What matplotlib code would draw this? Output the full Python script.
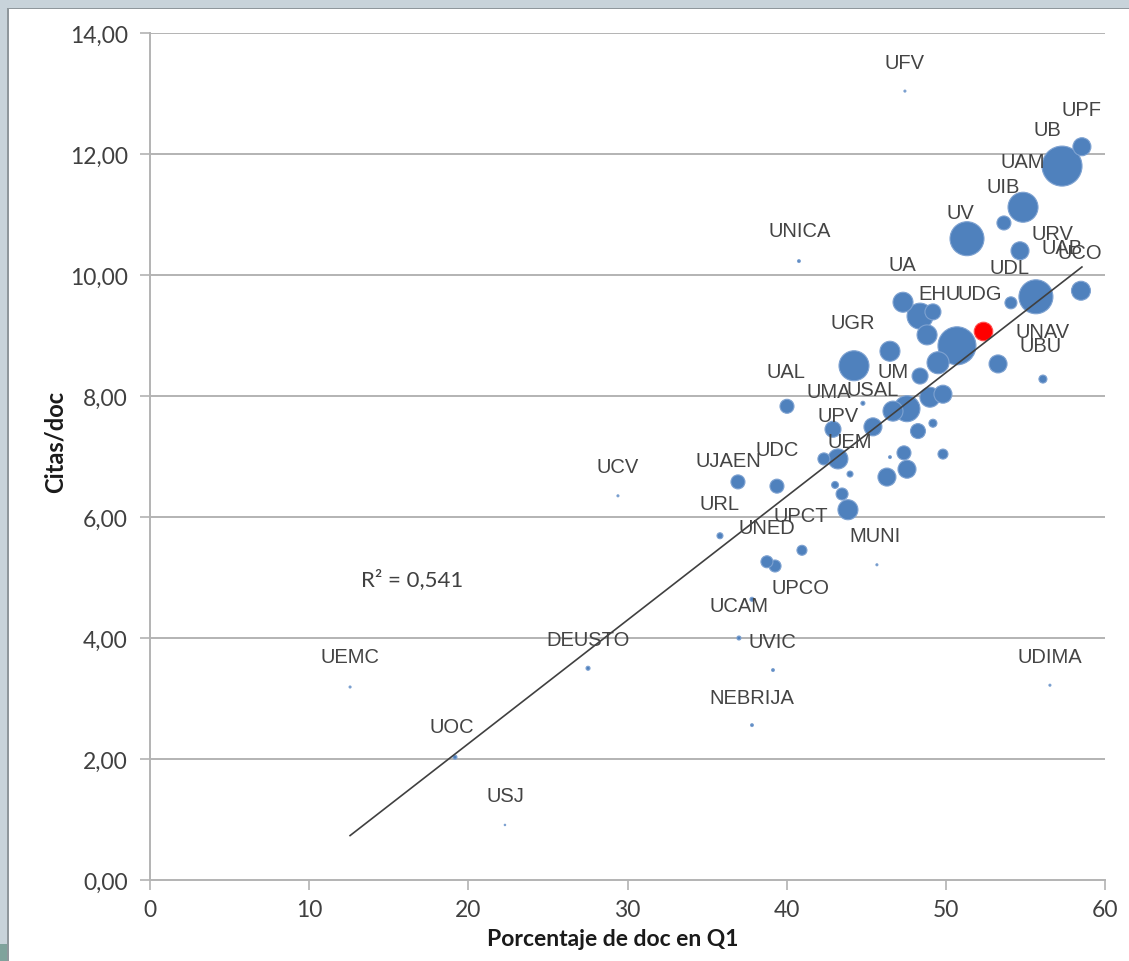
import matplotlib
matplotlib.use("Agg")
import matplotlib.pyplot as plt
import numpy as np
from matplotlib.patches import Rectangle
from matplotlib.ticker import FuncFormatter

# ---------------- data ----------------
# % of documents in Q1
pct_q1 = [47.43, 58.55, 57.30, 54.85, 53.65, 51.33, 54.66, 40.77, 55.66, 58.49,
          54.09, 47.31, 48.38, 49.19, 48.82, 50.70, 53.28, 49.51, 46.49, 44.23,
          48.38, 49.82, 47.56, 45.42, 48.25, 49.19, 44.79, 42.91, 40.02, 46.68,
          43.22, 42.34, 43.98, 46.49, 47.37, 49.82, 47.56, 46.30, 39.39, 36.94,
          43.04, 43.48, 43.85, 35.81, 40.96, 38.76, 39.27, 45.67, 37.82, 37.00,
          39.14, 37.82, 27.52, 12.57, 19.16, 56.54, 29.40, 56.10, 22.30, 49.00]
# citations per document
citas_doc = [13.04, 12.12, 11.80, 11.12, 10.86, 10.60, 10.40, 10.23, 9.64, 9.74,
             9.54, 9.55, 9.32, 9.39, 9.01, 8.83, 8.53, 8.55, 8.74, 8.50,
             8.33, 8.03, 7.79, 7.49, 7.42, 7.55, 7.88, 7.45, 7.83, 7.75,
             6.96, 6.96, 6.71, 6.99, 7.06, 7.04, 6.79, 6.66, 6.51, 6.58,
             6.53, 6.38, 6.12, 5.69, 5.45, 5.26, 5.19, 5.21, 4.64, 4.00,
             3.47, 2.56, 3.50, 3.19, 2.03, 3.22, 6.35, 8.28, 0.91, 7.98]
# bubble size (relative volume of documents)
volumen = [1, 81, 400, 225, 49, 289, 81, 2, 289, 90,
           36, 100, 169, 64, 100, 361, 81, 121, 100, 225,
           64, 81, 169, 81, 56, 16, 4, 64, 49, 100,
           100, 36, 9, 2, 49, 25, 81, 81, 49, 49,
           12, 36, 100, 9, 25, 36, 36, 1, 4, 4,
           2, 2, 4, 1, 4, 1, 1, 16, 0.5, 100]

# highlighted university (red bubble)
dest_x = [52.33]
dest_y = [9.07]
dest_vol = [86]

# linear trend (Excel trendline) and R²
trend_slope = 0.2044
trend_intercept = -1.835
r2_text = "R² = 0,541"

etiquetas = ["UFV", "UPF", "UB", "UAM", "UIB", "UV", "UNICA", "URV", "UAB", "UCO",
             "UA", "UDL", "EHU", "UDG", "UNAV", "UBU", "UGR", "UAL", "UM", "UMA",
             "USAL", "UPV", "UEM", "UDC", "UJAEN", "UCV", "URL", "UPCT", "UNED",
             "MUNI", "UPCO", "UCAM", "DEUSTO", "UVIC", "UDIMA", "UEMC", "NEBRIJA",
             "UOC", "USJ"]

y_ticks = [0, 2, 4, 6, 8, 10, 12, 14]
x_ticks = [0, 10, 20, 30, 40, 50, 60]

# ---------------- layout (label anchor positions, data units) ----------------
label_pos = {
    "UFV": (47.43, 13.52), "UPF": (58.55, 12.74), "UB": (56.36, 12.40),
    "UAM": (54.85, 11.87), "UIB": (53.59, 11.47), "UV": (50.89, 11.04),
    "UNICA": (40.84, 10.74), "URV": (56.67, 10.68), "UAB": (57.30, 10.46),
    "UCO": (58.43, 10.38), "UA": (47.25, 10.17), "UDL": (53.97, 10.13),
    "EHU": (49.63, 9.69), "UDG": (52.15, 9.69), "UNAV": (56.10, 9.07),
    "UBU": (55.98, 8.83), "UGR": (44.17, 9.22), "UAL": (39.96, 8.40),
    "UM": (46.68, 8.40), "UMA": (42.66, 8.08), "USAL": (45.42, 8.10),
    "UPV": (43.22, 7.67), "UEM": (43.98, 7.24), "UDC": (39.39, 7.12),
    "UJAEN": (36.31, 6.93), "UCV": (29.40, 6.84), "URL": (35.75, 6.23),
    "UPCT": (40.90, 6.02), "UNED": (38.76, 5.83), "MUNI": (45.55, 5.70),
    "UPCO": (40.84, 4.83), "UCAM": (37.00, 4.53), "DEUSTO": (27.52, 3.97),
    "UVIC": (39.08, 3.95), "UDIMA": (56.54, 3.70), "UEMC": (12.57, 3.69),
    "NEBRIJA": (37.82, 3.02), "UOC": (18.97, 2.53), "USJ": (22.30, 1.39),
}

W, H = 1129, 962
fig = plt.figure(figsize=(W / 100, H / 100), dpi=100)
fig.patch.set_facecolor("white")

# frame decorations (slide border)
fig.add_artist(Rectangle((0, 1 - 9 / H), 1, 9 / H, transform=fig.transFigure,
                         facecolor="#c8d3da", edgecolor="none", zorder=0))
fig.add_artist(Rectangle((0, 1 - 10 / H), 1, 1.5 / H, transform=fig.transFigure,
                         facecolor="#8f979c", edgecolor="none", zorder=0))
fig.add_artist(Rectangle((0, 0), 7 / W, 1, transform=fig.transFigure,
                         facecolor="#c8d3da", edgecolor="none", zorder=0))
fig.add_artist(Rectangle((7 / W, 0), 1.5 / W, 1 - 9 / H, transform=fig.transFigure,
                         facecolor="#8f979c", edgecolor="none", zorder=0))
fig.add_artist(Rectangle((0, 0), 7 / W, 17 / H, transform=fig.transFigure,
                         facecolor="#7fa39c", edgecolor="none", zorder=0))

ax = fig.add_axes([150 / W, 81 / H, 955 / W, 847 / H])
ax.set_xlim(0, 60)
ax.set_ylim(0, 14)

grid_c = "#b3b3b3"
for yt in y_ticks[1:]:
    ax.axhline(yt, color=grid_c, lw=1.4, zorder=1)

for s in ["top", "right"]:
    ax.spines[s].set_visible(False)
for s in ["left", "bottom"]:
    ax.spines[s].set_color(grid_c)
    ax.spines[s].set_linewidth(1.4)

ax.set_xticks(x_ticks)
ax.set_yticks(y_ticks)
ax.yaxis.set_major_formatter(FuncFormatter(lambda v, p: f"{v:.2f}".replace(".", ",")))
ax.tick_params(axis="both", direction="out", length=7, width=1.2, color=grid_c,
               labelcolor="#404040", labelsize=16.5)
ax.tick_params(axis="y", pad=9)
ax.tick_params(axis="x", pad=7)
for lab in ax.get_xticklabels() + ax.get_yticklabels():
    lab.set_fontfamily("Lato")

# bubbles
k = 2.0736
xs = np.array(pct_q1)
ys = np.array(citas_doc)
vs = np.array(volumen)
order = np.argsort(-vs)
ax.scatter(xs[order], ys[order], s=k * vs[order], color="#4f81bd",
           edgecolors="#7ea2d1", linewidths=0.8, zorder=3)
ax.scatter(dest_x, dest_y, s=k * np.array(dest_vol), color="#ff0000",
           edgecolors="#ff5050", linewidths=0.8, zorder=4)

# trend line over data range
allx = np.array(pct_q1 + dest_x)
tx = np.array([allx.min(), allx.max()])
ax.plot(tx, trend_slope * tx + trend_intercept, color="#404040", lw=1.2, zorder=5)

ax.text(16.46, 4.98, r2_text, ha="center", va="center", fontsize=16,
        color="#404040", family="Lato", zorder=6)

for name in etiquetas:
    lx, ly = label_pos[name]
    ax.text(lx, ly, name, ha="center", va="center", fontsize=14.5,
            color="#444444", family="Liberation Sans", zorder=6)

fig.text(55 / W, 1 - 442 / H, "Citas/doc", rotation=90, ha="center", va="center",
         fontsize=17, fontweight="bold", color="#1a1a1a", family="Lato")
fig.text(613 / W, 1 - 940 / H, "Porcentaje de doc en Q1", ha="center", va="center",
         fontsize=16.5, fontweight="bold", color="#1a1a1a", family="Lato")

fig.savefig("out.png", dpi=100, facecolor="white")
